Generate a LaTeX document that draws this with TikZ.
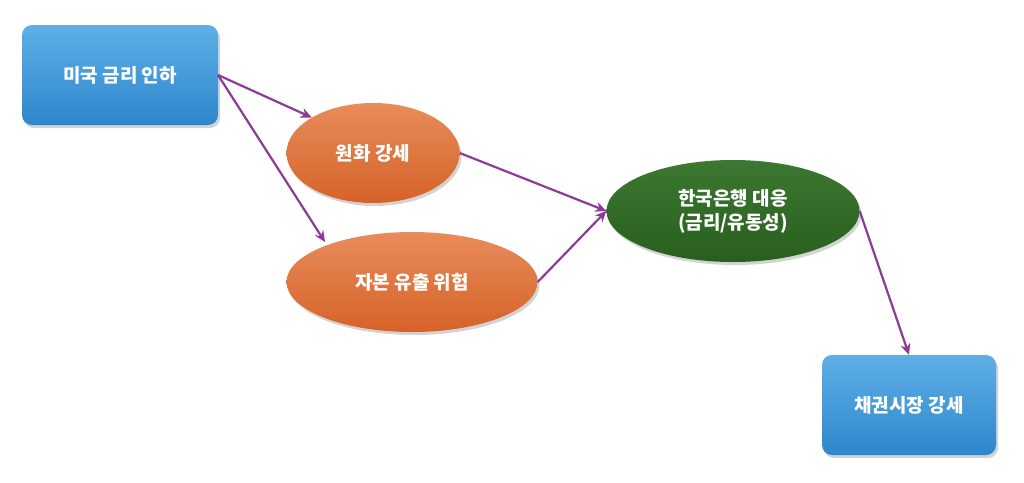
\documentclass[tikz,border=0pt]{standalone}
\usepackage{fontspec}
\setmainfont{Noto Sans CJK KR}
\usetikzlibrary{shapes.geometric,shadows,arrows.meta}
\definecolor{arr}{HTML}{8E3A98}
\tikzset{
  bluebox/.style={rectangle,rounded corners=10pt,top color=blue!20!cyan!60!blue!70!white,bottom color=blue!60!cyan!70!black!90,inner sep=0pt,drop shadow={opacity=0.35,shadow xshift=2pt,shadow yshift=-3pt},font=\fontsize{19}{22}\selectfont\bfseries,text=white},
  orng/.style={ellipse,top color={rgb,255:red,232;green,140;blue,90},bottom color={rgb,255:red,214;green,98;blue,40},inner sep=0pt,drop shadow={opacity=0.35,shadow xshift=2pt,shadow yshift=-3pt},font=\fontsize{19}{22}\selectfont\bfseries,text=white},
  grn/.style={ellipse,top color={rgb,255:red,60;green,120;blue,50},bottom color={rgb,255:red,40;green,95;blue,30},inner sep=0pt,drop shadow={opacity=0.35,shadow xshift=2pt,shadow yshift=-3pt},font=\fontsize{19}{24}\selectfont\bfseries,text=white,align=center},
  con/.style={draw=arr,line width=2.2pt,-{Stealth[length=11pt,width=10pt]}}
}
\begin{document}
\begin{tikzpicture}[x=1pt,y=-1pt]
\useasboundingbox (0,0) rectangle (1024,482);
\node[bluebox,minimum width=196pt,minimum height=100pt,top color={rgb,255:red,95;green,175;blue,230},bottom color={rgb,255:red,45;green,135;blue,205}] (a) at (120,75) {미국 금리 인하};
\node[orng,minimum width=173pt,minimum height=100pt] (b) at (373,153) {원화 강세};
\node[orng,minimum width=251pt,minimum height=100pt] (c) at (412,282) {자본 유출 위험};
\node[grn,minimum width=253pt,minimum height=102pt] (d) at (733,211) {한국은행 대응\\(금리/유동성)};
\node[bluebox,minimum width=174pt,minimum height=100pt,top color={rgb,255:red,95;green,175;blue,230},bottom color={rgb,255:red,45;green,135;blue,205}] (e) at (909,405) {채권시장 강세};
\coordinate (as) at (218,75);
\draw[con] (as) -- (b.north west);
\draw[con] (as) -- (325,242);
\draw[con] (b.east) -- (d.west);
\draw[con] (c.east) -- (d.west);
\draw[con] (d.east) -- (e.north);
\end{tikzpicture}
\end{document}
